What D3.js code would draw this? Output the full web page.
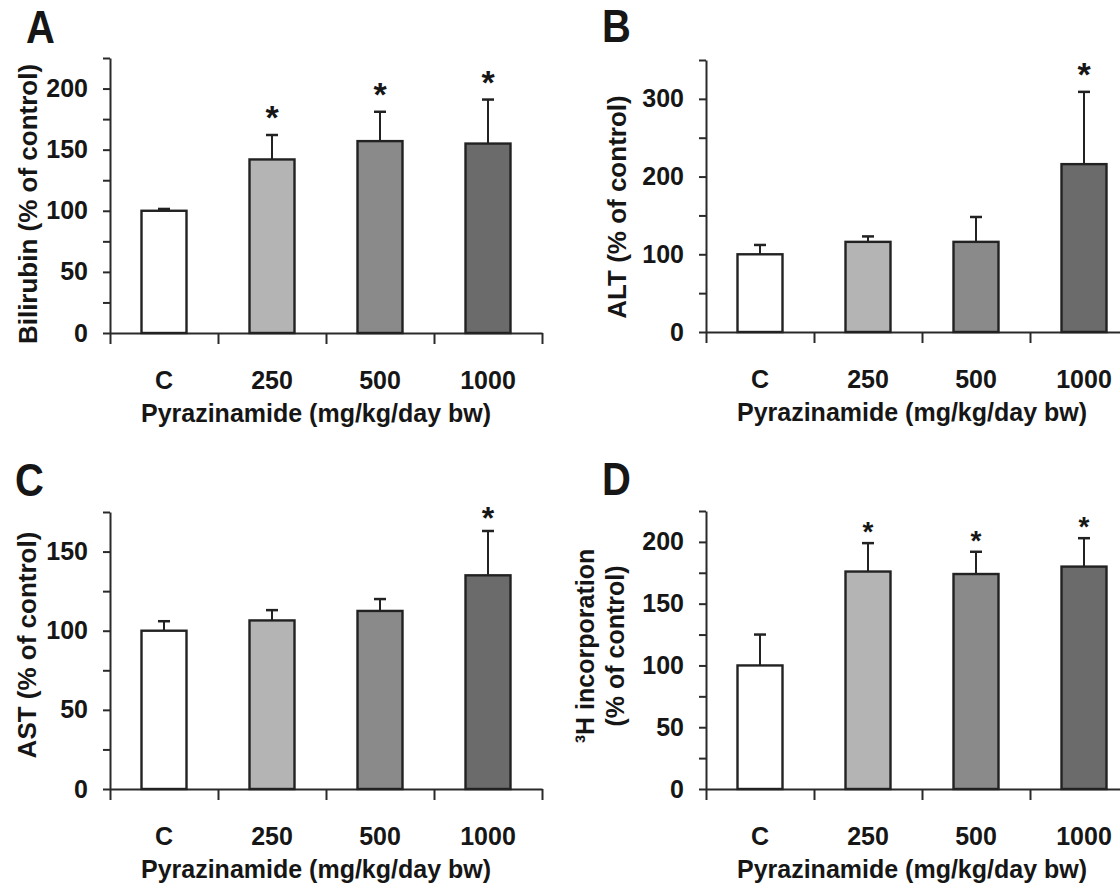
<!DOCTYPE html>
<html>
<head>
<meta charset="utf-8">
<script src="https://cdn.jsdelivr.net/npm/d3@7"></script>
<style>
body { margin: 0; background: #fff; }
text { font-family: "Liberation Sans", Arial, sans-serif; font-weight: bold; fill: #161616; }
.axis path, .axis line { stroke: #2a2a2a; stroke-width: 2; }
</style>
</head>
<body>
<div id="container"></div>
<script>
// dose groups + bar shading
var categories = ["C", "250", "500", "1000"];
var barColors = ["#ffffff", "#b4b4b4", "#8a8a8a", "#6b6b6b"];
var xTitle = "Pyrazinamide (mg/kg/day bw)";

// A - bilirubin
var bilirubinMean = [100, 142, 157, 155];
var bilirubinErr = [1.5, 20, 24, 36];
var bilirubinStar = [false, true, true, true];

// B - ALT
var altMean = [100, 116, 116, 216];
var altErr = [12, 7, 32, 93];
var altStar = [false, false, false, true];

// C - AST
var astMean = [100, 106.5, 112.5, 135];
var astErr = [6, 6.5, 7.5, 28];
var astStar = [false, false, false, true];

// D - 3H incorporation
var thymMean = [100, 176, 174, 180];
var thymErr = [25, 23, 18, 23];
var thymStar = [false, true, true, true];

var panels = [
    { letter: "A", lx: 26, ly: 43, left: 110, base: 333, top: 58, yMax: 225, major: 50, minor: 25,
      mean: bilirubinMean, err: bilirubinErr, star: bilirubinStar,
      title: ["Bilirubin (% of control)"], tx: [28], ty: 204, titleSize: 26, starSize: 34, starGap: 6 },
    { letter: "B", lx: 602, ly: 42, left: 706, base: 332, top: 60, yMax: 350, major: 100, minor: 50,
      mean: altMean, err: altErr, star: altStar,
      title: ["ALT (% of control)"], tx: [617], ty: 207, titleSize: 26, starSize: 34, starGap: 6 },
    { letter: "C", lx: 15, ly: 496, left: 110, base: 789, top: 512, yMax: 175, major: 50, minor: 25,
      mean: astMean, err: astErr, star: astStar,
      title: ["AST (% of control)"], tx: [27], ty: 645, titleSize: 26, starSize: 32, starGap: 2 },
    { letter: "D", lx: 602, ly: 495, left: 706, base: 789, top: 511, yMax: 225, major: 50, minor: 25,
      mean: thymMean, err: thymErr, star: thymStar,
      title: ["\u00b3H incorporation", "(% of control)"], tx: [585, 615], ty: 646, titleSize: 25, starSize: 28, starGap: 2 }
];

var width = 1120, height = 893;
var bandW = 108;

var svg = d3.select("#container").append("svg")
    .attr("width", width)
    .attr("height", height)
    .style("display", "block");

svg.append("rect").attr("width", width).attr("height", height).attr("fill", "#fff");

panels.forEach(drawPanel);

function drawPanel(p) {
    var g = svg.append("g");
    var right = p.left + bandW * categories.length;

    var x = d3.scaleBand().domain(categories).range([p.left, right]);
    var xEdge = d3.scaleLinear().domain([0, categories.length]).range([p.left, right]);
    var y = d3.scaleLinear().domain([0, p.yMax]).range([p.base, p.top]);
    var barW = 45;

    // panel letter
    g.append("text")
        .attr("transform", "translate(" + p.lx + "," + p.ly + ") scale(0.85,1)")
        .attr("font-size", 47)
        .text(p.letter);

    // y axis, minor ticks unlabeled
    var yAxis = d3.axisLeft(y)
        .tickValues(d3.range(0, p.yMax + 0.1, p.minor))
        .tickSize(7)
        .tickSizeOuter(0)
        .tickPadding(15)
        .tickFormat(function(d) { return d % p.major === 0 ? d : ""; });

    var ya = g.append("g")
        .attr("class", "axis")
        .attr("transform", "translate(" + p.left + ",0)")
        .call(yAxis);
    ya.attr("font-family", null).attr("font-size", null);
    ya.selectAll("text").attr("font-size", 25);

    // x axis: ticks on group boundaries
    var xa = g.append("g")
        .attr("class", "axis")
        .attr("transform", "translate(0," + p.base + ")")
        .call(d3.axisBottom(xEdge).tickValues(d3.range(0, categories.length + 1)).tickSize(11).tickSizeOuter(0).tickFormat(""));
    xa.attr("font-family", null).attr("font-size", null);

    // category labels
    var xl = g.append("g")
        .attr("transform", "translate(0," + p.base + ")")
        .call(d3.axisBottom(x).tickSize(0).tickPadding(38));
    xl.attr("font-family", null).attr("font-size", null);
    xl.select(".domain").remove();
    xl.selectAll("text").attr("font-size", 25);

    // x title
    g.append("text")
        .attr("x", (p.left + right) / 2 - 10)
        .attr("y", p.base + 89)
        .attr("text-anchor", "middle")
        .attr("font-size", 25)
        .text(xTitle);

    // y title
    p.title.forEach(function(t, i) {
        g.append("text")
            .attr("transform", "translate(" + p.tx[i] + "," + p.ty + ") rotate(-90)")
            .attr("text-anchor", "middle")
            .attr("dy", "0.35em")
            .attr("font-size", p.titleSize)
            .text(t);
    });

    var rows = categories.map(function(c, i) {
        return { cat: c, mean: p.mean[i], err: p.err[i], star: p.star[i], color: barColors[i] };
    });

    // error bars (upper only)
    g.selectAll(".err")
        .data(rows)
        .enter().append("line")
        .attr("class", "err")
        .attr("x1", function(d) { return x(d.cat) + x.bandwidth() / 2; })
        .attr("x2", function(d) { return x(d.cat) + x.bandwidth() / 2; })
        .attr("y1", function(d) { return y(d.mean); })
        .attr("y2", function(d) { return y(d.mean + d.err); })
        .attr("stroke", "#222")
        .attr("stroke-width", 2);

    g.selectAll(".cap")
        .data(rows)
        .enter().append("line")
        .attr("class", "cap")
        .attr("x1", function(d) { return x(d.cat) + x.bandwidth() / 2 - 6; })
        .attr("x2", function(d) { return x(d.cat) + x.bandwidth() / 2 + 6; })
        .attr("y1", function(d) { return y(d.mean + d.err); })
        .attr("y2", function(d) { return y(d.mean + d.err); })
        .attr("stroke", "#222")
        .attr("stroke-width", 2.5);

    g.selectAll(".bar")
        .data(rows)
        .enter().append("rect")
        .attr("class", "bar")
        .attr("x", function(d) { return x(d.cat) + (x.bandwidth() - barW) / 2; })
        .attr("width", barW)
        .attr("y", function(d) { return y(d.mean); })
        .attr("height", function(d) { return p.base - y(d.mean); })
        .attr("fill", function(d) { return d.color; })
        .attr("stroke", "#222")
        .attr("stroke-width", 2.4);

    g.selectAll(".star")
        .data(rows.filter(function(d) { return d.star; }))
        .enter().append("text")
        .attr("class", "star")
        .attr("x", function(d) { return x(d.cat) + x.bandwidth() / 2; })
        .attr("y", function(d) { return y(d.mean + d.err) - p.starGap; })
        .attr("text-anchor", "middle")
        .attr("font-size", p.starSize)
        .text("*");
}
</script>
</body>
</html>
